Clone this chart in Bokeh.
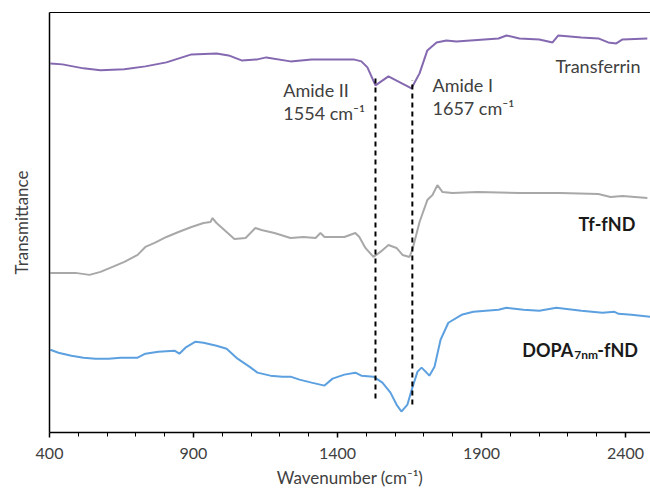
from bokeh.plotting import figure
from bokeh.models import Range1d, LinearAxis, FixedTicker
from bokeh.core.properties import value
from bokeh.embed import file_html
from bokeh.resources import INLINE

# ---- data (wavenumber in cm-1, transmittance in arbitrary offset units) ----
tf_x = [403, 445, 518, 577, 660, 733, 806, 893, 980, 1022, 1067, 1122, 1153, 1237, 1310,
        1383, 1456, 1483, 1504, 1532, 1577, 1657, 1685, 1712, 1744, 1778, 1813, 1959,
        1987, 2032, 2101, 2147, 2167, 2247, 2306, 2340, 2368, 2390, 2476]
tf_y = [370, 369, 365, 363, 364, 367, 371, 379, 380, 378, 373, 374, 376, 372, 374,
        374, 374, 372, 366, 348, 357, 345, 360, 383, 391, 393, 392, 395,
        398, 395, 394, 391, 398, 396, 395, 391, 390, 394, 395]

tffnd_x = [403, 445, 490, 539, 577, 619, 660, 706, 733, 765, 806, 848, 893, 935, 959, 966,
           980, 1015, 1042, 1081, 1115, 1136, 1181, 1237, 1282, 1324, 1341, 1355, 1383,
           1424, 1462, 1476, 1497, 1525, 1549, 1577, 1605, 1626, 1650, 1660, 1685, 1712,
           1730, 1747, 1765, 1799, 1886, 2032, 2174, 2306, 2348, 2390, 2476]
tffnd_y = [160, 160, 160, 158, 161, 166, 171, 178, 186, 190, 196, 201, 206, 210, 211, 215,
           210, 201, 194, 195, 205, 203, 200, 195, 196, 195, 200, 196, 196,
           196, 200, 196, 185, 176, 181, 188, 185, 178, 176, 183, 211, 233,
           238, 248, 241, 240, 241, 240, 240, 239, 236, 237, 235]

dopa_x = [403, 431, 476, 518, 560, 605, 647, 706, 733, 778, 834, 851, 872, 907, 935, 980,
          1015, 1053, 1094, 1122, 1167, 1209, 1237, 1268, 1310, 1355, 1383, 1424, 1462,
          1483, 1525, 1556, 1584, 1605, 1622, 1643, 1660, 1678, 1692, 1706, 1719, 1737,
          1758, 1785, 1831, 1872, 1959, 1987, 2046, 2101, 2160, 2247, 2320, 2362, 2376,
          2421, 2490]
dopa_y = [83, 80, 77, 75, 74, 74, 75, 75, 79, 81, 82, 79, 85, 91, 90, 87,
          84, 74, 66, 60, 57, 56, 56, 53, 50, 47, 54, 58, 60,
          57, 56, 50, 40, 28, 21, 28, 45, 61, 65, 61, 57, 66,
          93, 110, 118, 121, 123, 125, 123, 122, 125, 122, 120, 121, 119,
          118, 116]

marker_x = [1532, 1660]          # dashed amide band markers
marker_top = [358, 353]
marker_bottom = [34, 28]

x_ticks = [400, 900, 1400, 1900, 2400]
minor_ticks = [500, 600, 700, 800, 1000, 1100, 1200, 1300, 1500, 1600, 1700, 1800,
               2000, 2100, 2200, 2300]

FONT = "Lato"
TXT = "#404040"

p = figure(width=650, height=490, output_backend="svg", toolbar_location=None,
           x_range=Range1d(400, 2487), y_range=Range1d(0, 421),
           x_axis_location=None, y_axis_location=None,
           min_border_left=49, min_border_right=0, min_border_top=12, min_border_bottom=57)
p.outline_line_color = None
p.xgrid.visible = False
p.ygrid.visible = False
p.background_fill_color = "white"
p.border_fill_color = "white"

# bottom axis
xa = LinearAxis(ticker=FixedTicker(ticks=x_ticks, minor_ticks=minor_ticks))
xa.axis_label = "Wavenumber (cm⁻¹)"
xa.axis_label_text_font = FONT
xa.axis_label_text_font_style = "normal"
xa.axis_label_text_font_size = "17px"
xa.axis_label_text_color = TXT
xa.axis_label_standoff = 5
xa.major_label_text_font = FONT
xa.major_label_text_font_size = "16px"
xa.major_label_text_color = TXT
xa.major_label_standoff = 10
xa.axis_line_color = "black"
xa.axis_line_width = 1.5
xa.major_tick_line_color = "black"
xa.major_tick_line_width = 1.5
xa.major_tick_in = 0
xa.major_tick_out = 5
xa.minor_tick_line_color = "black"
xa.minor_tick_line_width = 1
xa.minor_tick_in = 0
xa.minor_tick_out = 4
p.add_layout(xa, "below")

# left axis (no ticks)
ya = LinearAxis(ticker=FixedTicker(ticks=[]))
ya.axis_label = "Transmittance"
ya.axis_label_text_font = FONT
ya.axis_label_text_font_style = "normal"
ya.axis_label_text_font_size = "17px"
ya.axis_label_text_color = TXT
ya.axis_label_standoff = 18
ya.major_label_text_font_size = "0px"
ya.major_label_standoff = 0
ya.major_tick_out = 0
ya.major_tick_in = 0
ya.minor_tick_out = 0
ya.minor_tick_in = 0
ya.axis_line_color = "black"
ya.axis_line_width = 1.5
p.add_layout(ya, "left")

# top frame line
ta = LinearAxis(ticker=FixedTicker(ticks=[]))
ta.major_label_text_font_size = "0px"
ta.major_label_standoff = 0
ta.major_tick_out = 0
ta.major_tick_in = 0
ta.minor_tick_out = 0
ta.minor_tick_in = 0
ta.axis_line_color = "black"
ta.axis_line_width = 1
p.add_layout(ta, "above")

# spectra
p.line(tf_x, tf_y, line_color="#8468B0", line_width=2)
p.line(tffnd_x, tffnd_y, line_color="#A8A8A8", line_width=2)
p.line(dopa_x, dopa_y, line_color="#5CA0E0", line_width=2)

# dashed amide markers
p.segment(x0=marker_x, y0=marker_bottom, x1=marker_x, y1=marker_top,
          line_color="black", line_width=2, line_dash="5 4")

# annotations
p.text(x=[1212, 1212, 1730, 1730], y=[343, 320, 348, 325],
       text=["Amide II", "1554 cm⁻¹", "Amide I", "1657 cm⁻¹"],
       text_font=value(FONT), text_font_size="18px", text_color=TXT,
       text_align="left", text_baseline="middle")
p.text(x=[2452], y=[367], text=["Transferrin"],
       text_font=value(FONT), text_font_size="18px", text_color=TXT,
       text_align="right", text_baseline="middle")
p.text(x=[2237], y=[209], text=["Tf-fND"],
       text_font=value(FONT), text_font_size="18px", text_font_style="bold",
       text_color="#1a1a1a", text_align="left", text_baseline="middle")
p.text(x=[2042], y=[83], text=["DOPA"],
       text_font=value(FONT), text_font_size="18px", text_font_style="bold",
       text_color="#1a1a1a", text_align="left", text_baseline="middle")
p.text(x=[2042], y=[83], text=["7nm"], x_offset=52, y_offset=5,
       text_font=value(FONT), text_font_size="12px", text_font_style="bold",
       text_color="#1a1a1a", text_align="left", text_baseline="middle")
p.text(x=[2042], y=[83], text=["-fND"], x_offset=75,
       text_font=value(FONT), text_font_size="18px", text_font_style="bold",
       text_color="#1a1a1a", text_align="left", text_baseline="middle")

open("out.html", "w").write(file_html(p, INLINE))
